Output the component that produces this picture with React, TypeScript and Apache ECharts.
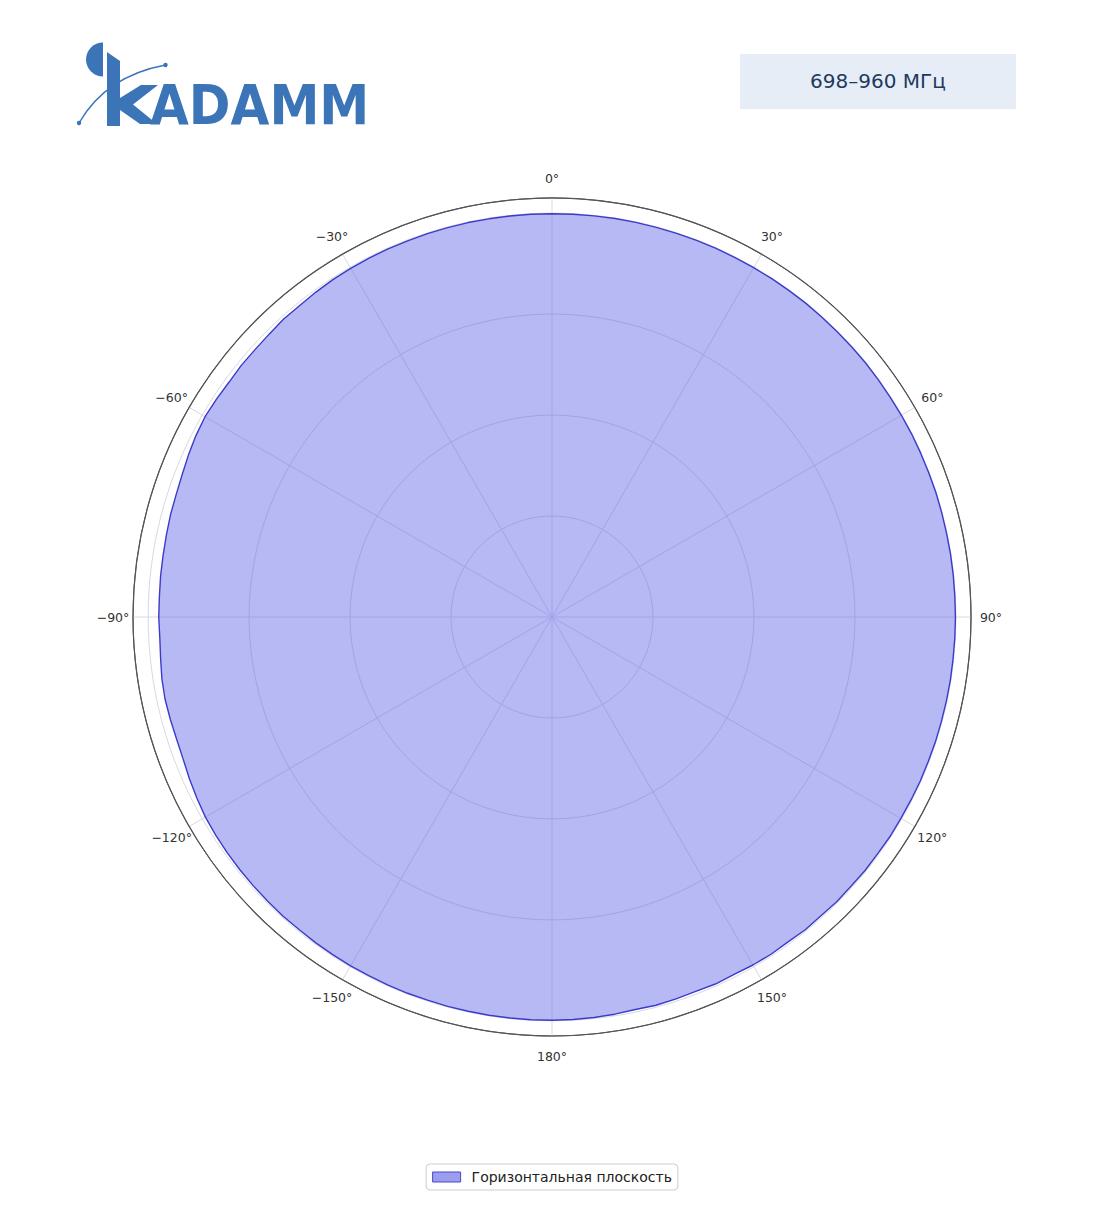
import React, { useEffect, useRef } from "react";
import * as echarts from "echarts";

// Angles (deg, clockwise from top) for every measured point
const angles: number[] = [
  0, 3, 6, 9, 12, 15, 18, 21, 24, 27, 30, 33, 36, 39, 42, 45, 48, 51, 54, 57,
  60, 63, 66, 69, 72, 75, 78, 81, 84, 87, 90, 93, 96, 99, 102, 105, 108, 111, 114, 117,
  120, 123, 126, 129, 132, 135, 138, 141, 144, 147, 150, 153, 156, 159, 162, 165, 168, 171, 174, 177,
  180, 183, 186, 189, 192, 195, 198, 201, 204, 207, 210, 213, 216, 219, 222, 225, 228, 231, 234, 237,
  240, 243, 246, 249, 252, 255, 258, 261, 264, 267, 270, 273, 276, 279, 282, 285, 288, 291, 294, 297,
  300, 303, 306, 309, 312, 315, 318, 321, 324, 327, 330, 333, 336, 339, 342, 345, 348, 351, 354, 357, 360,
];

// Normalized gain (dB), same order as angles
const gainDb: number[] = [
  -0.06, -0.05, -0.05, -0.04, -0.04, -0.05, -0.05, -0.04, -0.04, -0.05, -0.05, -0.04, -0.04, -0.03, -0.04, -0.05, -0.04, -0.03, -0.04, -0.05,
  -0.04, -0.03, -0.04, -0.04, -0.03, -0.04, -0.05, -0.04, -0.04, -0.05, -0.04, -0.05, -0.06, -0.05, -0.06, -0.07, -0.06, -0.08, -0.07, -0.09,
  -0.1, -0.08, -0.12, -0.1, -0.15, -0.12, -0.19, -0.14, -0.22, -0.17, -0.2, -0.27, -0.21, -0.28, -0.23, -0.19, -0.26, -0.17, -0.12, -0.08,
  -0.06, -0.05, -0.07, -0.06, -0.08, -0.07, -0.1, -0.08, -0.09, -0.12, -0.1, -0.12, -0.14, -0.18, -0.16, -0.18, -0.2, -0.22, -0.25, -0.3,
  -0.36, -0.52, -0.68, -0.85, -0.9, -0.86, -0.82, -0.88, -1.02, -1.1, -1.05, -1.06, -1.02, -1.0, -0.95, -0.88, -0.85, -0.75, -0.58, -0.42,
  -0.32, -0.38, -0.45, -0.4, -0.42, -0.38, -0.28, -0.3, -0.22, -0.15, -0.12, -0.1, -0.08, -0.09, -0.07, -0.08, -0.06, -0.07, -0.06, -0.05, -0.06,
];

const radiusMin = -40;
const radiusMax = 1.5;
const radiusStep = 10;
const angleTicks = 30;

const seriesName = "Горизонтальная плоскость";
const bandLabel = "698–960 МГц";
const logoText = "ADAMM";

function angleLabel(v: number): string {
  let s: string;
  if (v === 0) s = "0°";
  else if (v > 180) s = "\u2212" + (360 - v) + "°";
  else s = v + "°";
  return "{c|" + s + "}";
}

export default function App() {
  const ref = useRef<HTMLDivElement>(null);

  useEffect(() => {
    document.body.style.margin = "0";
    if (!ref.current) return;
    const chart = echarts.init(ref.current, undefined, { renderer: "svg" });
    const blue = "#3b75b7";

    const option: any = {
      animation: false,
      backgroundColor: "#ffffff",
      textStyle: { fontFamily: "DejaVu Sans" },
      polar: { center: [552, 617], radius: 419 },
      angleAxis: {
        type: "value",
        min: 0,
        max: 360,
        interval: angleTicks,
        startAngle: 90,
        clockwise: true,
        axisLine: { show: true, lineStyle: { color: "#555555", width: 1.2 } },
        axisTick: { show: false },
        axisLabel: {
          show: true,
          margin: 19,
          color: "#333333",
          fontSize: 12.5,
          fontFamily: "DejaVu Sans",
          formatter: angleLabel,
          rich: {
            c: {
              width: 2,
              height: 2,
              lineHeight: 2,
              align: "center",
              verticalAlign: "middle",
              color: "#333333",
              fontSize: 12.5,
              fontFamily: "DejaVu Sans",
            },
          },
        },
        splitLine: { show: true, lineStyle: { color: "#d8d8e2", width: 1 } },
      },
      radiusAxis: {
        type: "value",
        min: radiusMin,
        max: radiusMax,
        interval: radiusStep,
        axisLine: { show: false },
        axisTick: { show: false },
        axisLabel: { show: false },
        splitLine: {
          show: true,
          lineStyle: { color: ["#d8d8e2", "#d8d8e2", "#d8d8e2", "#d8d8e2", "#d8d8e2", "#555555"], width: 1 },
        },
      },
      legend: {
        show: true,
        top: 1164,
        left: "center",
        orient: "horizontal",
        icon: "rect",
        itemWidth: 28,
        itemHeight: 10,
        padding: [6, 6],
        backgroundColor: "#ffffff",
        borderColor: "#c9cdd4",
        borderWidth: 1,
        borderRadius: 4,
        textStyle: { color: "#222222", fontSize: 14, fontFamily: "DejaVu Sans", padding: [0, 0, 0, 6] },
        data: [
          {
            name: seriesName,
            itemStyle: { color: "#9c9cf0", borderColor: "#4a4ac8", borderWidth: 1 },
          },
        ],
      },
      series: [
        {
          name: seriesName,
          type: "line",
          coordinateSystem: "polar",
          color: "#5a5fe6",
          symbol: "none",
          showSymbol: false,
          smooth: false,
          lineStyle: { color: "#3b3bc9", width: 1.4 },
          areaStyle: { color: "#5c60e8", opacity: 0.44, origin: "start" },
          data: angles.map((a, i) => [gainDb[i], a]),
          z: 3,
        },
      ],
      graphic: [
        {
          type: "rect",
          shape: { x: 740, y: 54, width: 276, height: 55 },
          style: { fill: "#e6edf6" },
        },
        {
          type: "text",
          style: {
            text: bandLabel,
            x: 878,
            y: 81,
            align: "center",
            verticalAlign: "middle",
            fill: "#1f3a5e",
            font: "20px 'DejaVu Sans'",
          },
        },
        // logo
        {
          type: "sector",
          shape: { cx: 103, cy: 59.5, r: 17, r0: 0, startAngle: Math.PI / 2, endAngle: (3 * Math.PI) / 2, clockwise: true },
          style: { fill: blue },
        },
        {
          type: "polygon",
          shape: { points: [[107, 52], [120, 61], [120, 126], [107, 126]] },
          style: { fill: blue },
        },
        {
          type: "polygon",
          shape: {
            points: [[120, 98], [141, 85], [158, 85], [133, 104.5], [157, 124], [140, 124], [120, 110]],
          },
          style: { fill: blue },
        },
        {
          type: "text",
          x: 150,
          y: 105,
          scaleX: 0.93,
          scaleY: 1.02,
          style: {
            text: logoText,
            x: 0,
            y: 0,
            align: "left",
            verticalAlign: "middle",
            fill: blue,
            font: "bold 54px 'DejaVu Sans'",
          },
        },
        {
          type: "bezierCurve",
          shape: { x1: 79, y1: 123, x2: 165.5, y2: 65, cpx1: 106, cpy1: 76 },
          style: { stroke: blue, lineWidth: 1.5, fill: null },
        },
        { type: "circle", shape: { cx: 79, cy: 123, r: 2.2 }, style: { fill: blue } },
        { type: "circle", shape: { cx: 165.5, cy: 65, r: 2.2 }, style: { fill: blue } },
      ],
    };

    chart.setOption(option);
    return () => chart.dispose();
  }, []);

  return <div ref={ref} style={{ width: 1104, height: 1211 }} />;
}
